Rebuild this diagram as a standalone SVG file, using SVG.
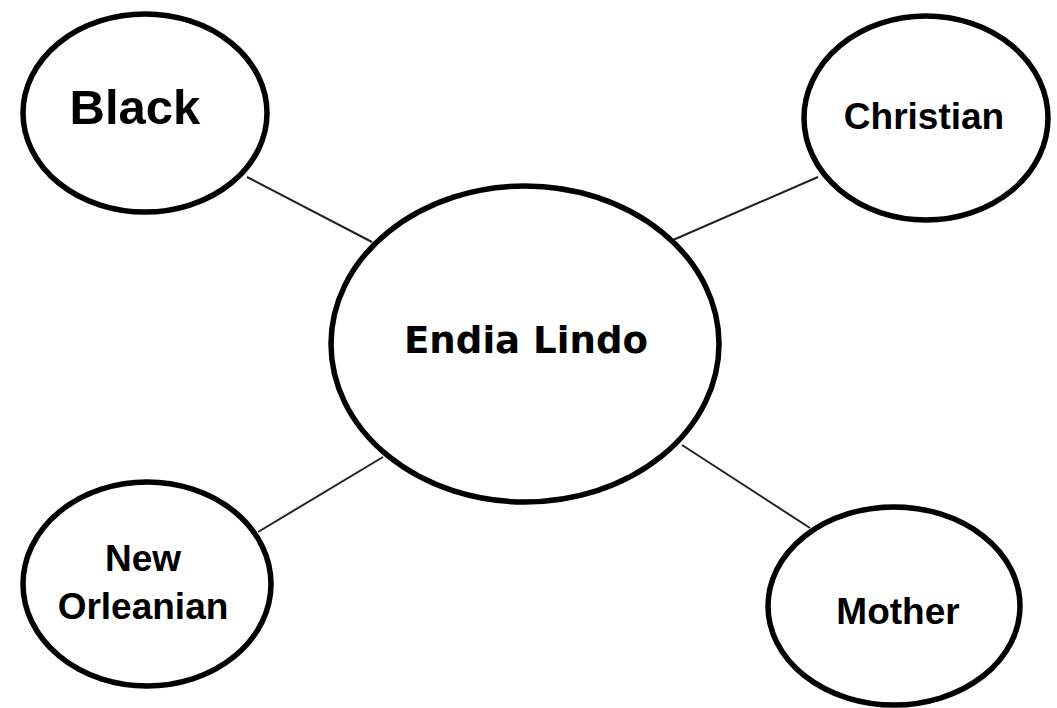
<svg xmlns="http://www.w3.org/2000/svg" width="1057" height="708" viewBox="0 0 1057 708">
<style>
.node ellipse{fill:#fff;stroke:#000;stroke-width:5.5}
.lbl{font-family:"Liberation Sans",Arial,sans-serif;font-weight:bold;fill:#000;text-anchor:middle}
.main{font-family:"DejaVu Sans",Verdana,sans-serif;font-weight:bold;fill:#000;text-anchor:middle}
#connectors line{stroke:#222;stroke-width:2}
</style>
<rect width="1057" height="708" fill="#fff"/>
<g id="connectors">
<line x1="247" y1="177" x2="372" y2="242"/>
<line x1="673" y1="240" x2="818" y2="177"/>
<line x1="258" y1="532" x2="383" y2="457"/>
<line x1="682" y1="445" x2="810" y2="528"/>
</g>
<g id="node-black" class="node">
<ellipse cx="145" cy="113" rx="122" ry="99"/>
<text class="lbl" x="135" y="124" font-size="49">Black</text>
</g>
<g id="node-christian" class="node">
<ellipse cx="926" cy="118" rx="122" ry="102"/>
<text class="lbl" x="924" y="129" font-size="37">Christian</text>
</g>
<g id="node-endia" class="node">
<ellipse cx="525" cy="344" rx="194" ry="158"/>
<text class="main" x="526" y="353" font-size="38" textLength="244" lengthAdjust="spacingAndGlyphs">Endia Lindo</text>
</g>
<g id="node-neworleanian" class="node">
<ellipse cx="147" cy="584" rx="124" ry="102"/>
<text class="lbl" x="143" y="571" font-size="37">New</text>
<text class="lbl" x="143" y="619" font-size="37">Orleanian</text>
</g>
<g id="node-mother" class="node">
<ellipse cx="894" cy="606" rx="126" ry="99"/>
<text class="lbl" x="898" y="624" font-size="37">Mother</text>
</g>
</svg>
